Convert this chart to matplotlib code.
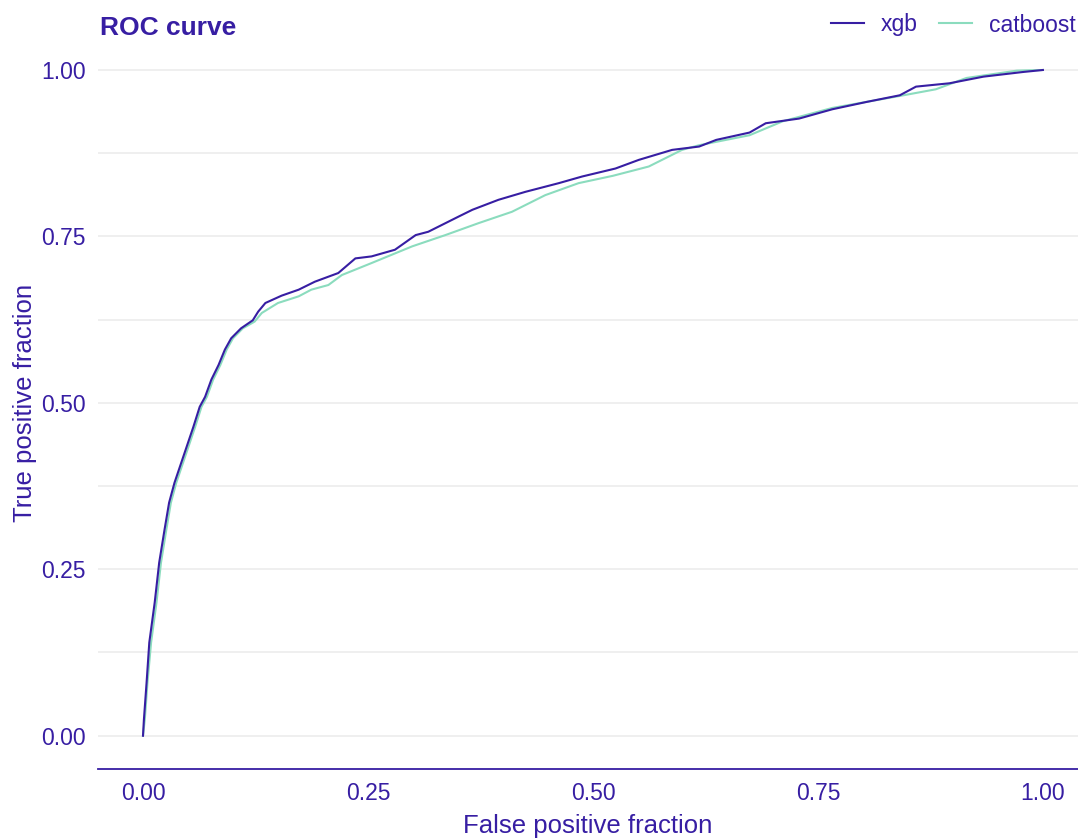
import matplotlib
matplotlib.use("Agg")
import matplotlib.pyplot as plt

plt.rcParams['font.family'] = ['Liberation Sans', 'DejaVu Sans']

TEXT = "#371ea3"
GRID = "#ebebeb"

xgb_fpr = [0.000, 0.001, 0.004, 0.007, 0.013, 0.018, 0.024, 0.029, 0.035, 0.046,
           0.056, 0.063, 0.069, 0.076, 0.084, 0.091, 0.098, 0.109, 0.122, 0.128,
           0.136, 0.154, 0.173, 0.191, 0.217, 0.236, 0.254, 0.280, 0.303, 0.317,
           0.351, 0.366, 0.395, 0.425, 0.462, 0.488, 0.525, 0.551, 0.588, 0.618,
           0.637, 0.674, 0.692, 0.729, 0.766, 0.804, 0.841, 0.859, 0.896, 0.934,
           0.978, 1.000]
xgb_tpr = [0.000, 0.024, 0.080, 0.140, 0.200, 0.260, 0.310, 0.350, 0.380, 0.424,
           0.464, 0.494, 0.509, 0.535, 0.557, 0.580, 0.597, 0.612, 0.624, 0.637,
           0.650, 0.661, 0.670, 0.682, 0.695, 0.717, 0.720, 0.730, 0.752, 0.757,
           0.780, 0.790, 0.805, 0.817, 0.830, 0.840, 0.852, 0.865, 0.880, 0.885,
           0.895, 0.906, 0.920, 0.927, 0.941, 0.952, 0.962, 0.975, 0.980, 0.990,
           0.997, 1.000]

cat_fpr = [0.000, 0.002, 0.005, 0.009, 0.015, 0.020, 0.026, 0.031, 0.037, 0.048,
           0.058, 0.065, 0.071, 0.078, 0.086, 0.093, 0.100, 0.111, 0.124, 0.132,
           0.150, 0.173, 0.187, 0.206, 0.221, 0.254, 0.299, 0.336, 0.373, 0.410,
           0.447, 0.484, 0.522, 0.562, 0.599, 0.618, 0.674, 0.711, 0.766, 0.841,
           0.881, 0.915, 0.971, 1.000]
cat_tpr = [0.000, 0.024, 0.080, 0.140, 0.200, 0.260, 0.310, 0.350, 0.380, 0.424,
           0.464, 0.494, 0.509, 0.535, 0.557, 0.580, 0.597, 0.612, 0.622, 0.635,
           0.650, 0.660, 0.670, 0.677, 0.692, 0.710, 0.735, 0.752, 0.770, 0.787,
           0.812, 0.830, 0.841, 0.855, 0.880, 0.887, 0.902, 0.923, 0.943, 0.961,
           0.971, 0.988, 0.999, 1.000]

tick_vals = [0.00, 0.25, 0.50, 0.75, 1.00]
tick_labels = ["0.00", "0.25", "0.50", "0.75", "1.00"]

W, H = 1078, 839
fig = plt.figure(figsize=(W / 100, H / 100), dpi=100)
ax = fig.add_axes([98 / W, 1 - 769 / H, 980 / W, (769 - 36.7) / H])

l_cat, = ax.plot(cat_fpr, cat_tpr, color="#8bdcbe", lw=1.5, label="catboost", zorder=3)
l_xgb, = ax.plot(xgb_fpr, xgb_tpr, color="#371ea3", lw=1.5, label="xgb", zorder=4)

ax.set_xlim(-0.05, 1.039)
ax.set_ylim(-0.05, 1.05)

for g in [i * 0.125 for i in range(9)]:
    ax.axhline(g, color=GRID, lw=1.1, zorder=1)

for s in ["top", "right", "left"]:
    ax.spines[s].set_visible(False)
ax.spines["bottom"].set_color(TEXT)
ax.spines["bottom"].set_linewidth(1.3)

ax.set_xticks(tick_vals)
ax.set_xticklabels(tick_labels)
ax.set_yticks(tick_vals)
ax.set_yticklabels(tick_labels)
ax.tick_params(axis="both", length=0, labelsize=16.5, labelcolor=TEXT)
ax.tick_params(axis="y", pad=9)
ax.tick_params(axis="x", pad=9)

ax.set_xlabel("False positive fraction", fontsize=18.5, color=TEXT, labelpad=7)
ax.set_ylabel("True positive fraction", fontsize=18.5, color=TEXT, labelpad=3)

fig.text(100 / W, 1 - 35 / H, "ROC curve", fontsize=19, fontweight="bold",
         color=TEXT, ha="left", va="baseline")

leg = fig.legend([l_xgb, l_cat], ["xgb", "catboost"], ncol=2, frameon=False,
                 loc="center right", bbox_to_anchor=(1076 / W, 1 - 25 / H),
                 fontsize=16.5, handlelength=1.45, handletextpad=0.75,
                 columnspacing=0.9, borderpad=0, borderaxespad=0)
for t in leg.get_texts():
    t.set_color(TEXT)

fig.savefig("out.png", dpi=100)
